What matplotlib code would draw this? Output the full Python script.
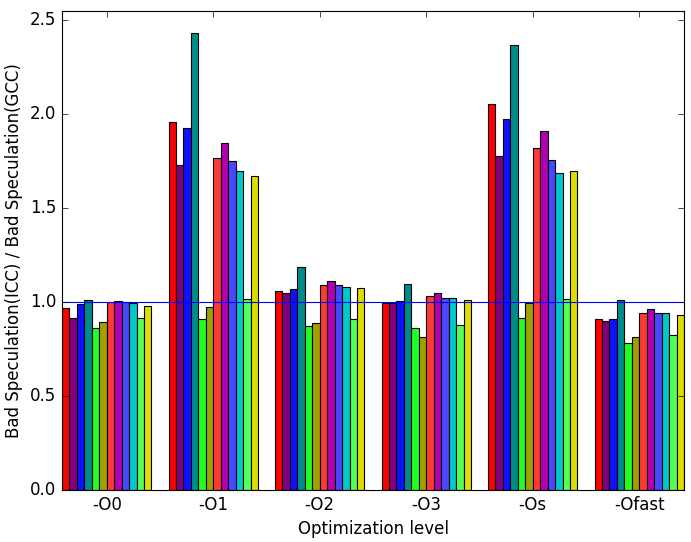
import matplotlib
matplotlib.use("Agg")
import matplotlib.pyplot as plt
import numpy as np

plt.style.use("classic")

levels = ["-O0", "-O1", "-O2", "-O3", "-Os", "-Ofast"]

# one list per benchmark, one value per optimization level
series = [
    [0.970, 1.961, 1.062, 0.998, 2.057, 0.908],
    [0.918, 1.729, 1.051, 0.998, 1.780, 0.902],
    [0.989, 1.926, 1.069, 1.005, 1.977, 0.908],
    [1.009, 2.434, 1.186, 1.099, 2.371, 1.012],
    [0.865, 0.908, 0.871, 0.860, 0.918, 0.780],
    [0.892, 0.972, 0.887, 0.817, 0.993, 0.812],
    [1.003, 1.766, 1.090, 1.032, 1.819, 0.940],
    [1.005, 1.849, 1.110, 1.051, 1.910, 0.961],
    [1.000, 1.750, 1.090, 1.023, 1.759, 0.940],
    [0.993, 1.697, 1.083, 1.023, 1.690, 0.940],
    [0.918, 1.016, 0.908, 0.876, 1.016, 0.823],
    [0.982, 1.670, 1.073, 1.014, 1.700, 0.929],
]

colors = ["#ff0000", "#800080", "#1010ff", "#008b8b", "#22ff22", "#a0a000",
          "#ff3838", "#b000b0", "#4848ff", "#00c8c8", "#55ff55", "#dddd00"]

ind = np.arange(len(levels))
width = 0.07

plt.rcParams["axes.linewidth"] = 0.8

fig = plt.figure(figsize=(6.91, 5.42), dpi=100, facecolor="white")
ax = fig.add_axes([62 / 691, 52 / 542, 622 / 691, 479 / 542])

for i, (vals, c) in enumerate(zip(series, colors)):
    ax.bar(ind + i * width, vals, width, color=c, edgecolor="black",
           linewidth=0.8, align="edge")

ax.axhline(1.0, color="blue", linewidth=0.8)

ax.set_xlim(0, len(levels) - 1 + width * len(series))
ax.set_ylim(0, 2.55)
ax.set_xticks(ind + width * len(series) / 2)
ax.set_xticklabels(levels)
ax.set_yticks(np.arange(0, 2.51, 0.5))
ax.tick_params(labelsize=12)
ax.set_xlabel("Optimization level", fontsize=12)
ax.set_ylabel("Bad Speculation(ICC) / Bad Speculation(GCC)", fontsize=12)

fig.savefig("out.png", dpi=100, facecolor="white")
